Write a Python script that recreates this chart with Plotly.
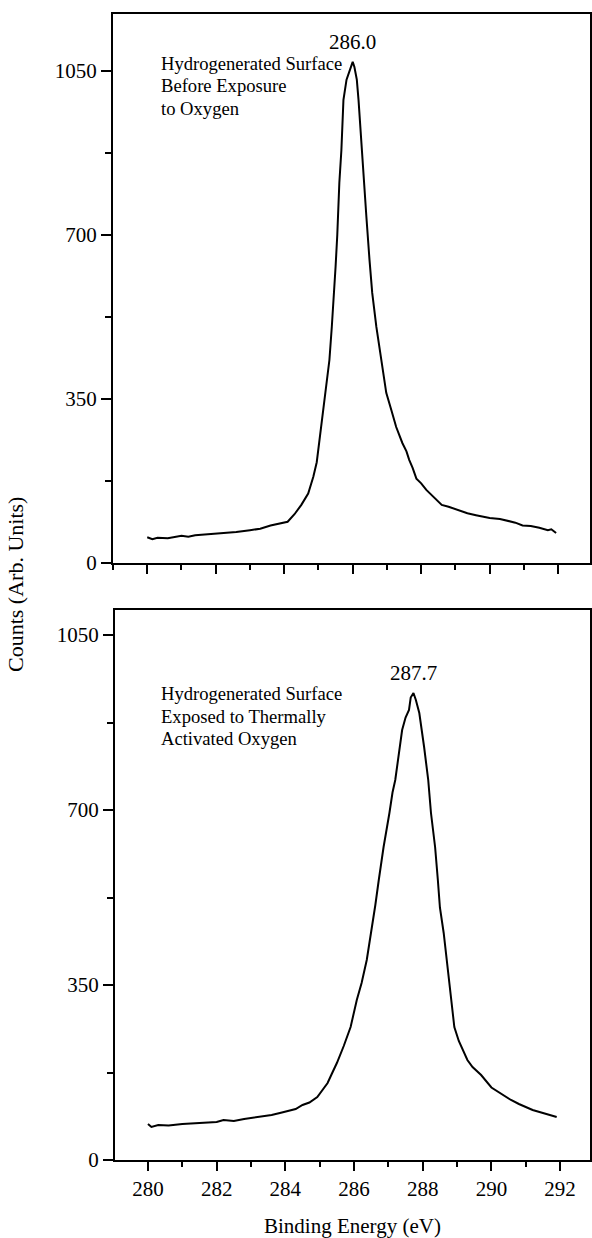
import plotly.graph_objects as go

# Top spectrum: hydrogenerated surface before exposure to oxygen
top_energy = [280.0, 280.15, 280.3, 280.6, 281.0, 281.2, 281.4, 281.8, 282.2, 282.6, 283.0, 283.3,
              283.6, 283.9, 284.1, 284.3, 284.5, 284.7, 284.85, 284.95, 285.08, 285.2, 285.32,
              285.39, 285.44, 285.5, 285.55, 285.61, 285.67, 285.73, 285.82, 285.9, 285.95, 286.0,
              286.05, 286.12, 286.17, 286.26, 286.32, 286.4, 286.49, 286.57, 286.69, 286.84,
              286.98, 287.13, 287.27, 287.45, 287.57, 287.65, 287.75, 287.86, 288.0, 288.15,
              288.3, 288.45, 288.6, 288.8, 289.1, 289.35, 289.6, 290.0, 290.3, 290.5, 290.75,
              290.96, 291.2, 291.45, 291.7, 291.8, 291.94]
top_counts = [55, 51, 54, 53, 58, 56, 59, 61, 63, 66, 70, 73,
              80, 84, 88, 104, 124, 148, 184, 215, 290, 363, 433,
              504, 576, 632, 700, 811, 881, 988, 1031, 1050, 1060, 1069,
              1058, 1031, 988, 881, 811, 738, 647, 576, 504, 433,
              363, 326, 290, 256, 238, 220, 203, 180, 170, 156,
              145, 136, 124, 120, 113, 106, 102, 96, 94, 91, 86,
              80, 79, 75, 70, 72, 64]

# Bottom spectrum: surface exposed to thermally activated oxygen
bot_energy = [280.0, 280.1, 280.3, 280.6, 281.0, 281.4, 281.8, 282.0, 282.2, 282.5, 282.8, 283.0,
              283.3, 283.6, 283.9, 284.1, 284.3, 284.5, 284.7, 284.93, 285.1, 285.23, 285.35,
              285.5, 285.7, 285.9, 286.08, 286.22, 286.37, 286.5, 286.62, 286.72, 286.86, 287.03,
              287.12, 287.2, 287.33, 287.4, 287.5, 287.55, 287.6, 287.65, 287.73, 287.8, 287.9,
              288.04, 288.16, 288.24, 288.36, 288.44, 288.5, 288.61, 288.72, 288.82, 288.92,
              289.05, 289.16, 289.3, 289.45, 289.7, 290.0, 290.2, 290.37, 290.57, 290.8, 291.0,
              291.2, 291.5, 291.7, 291.9]
bot_counts = [72, 66, 70, 69, 72, 74, 75, 76, 80, 78, 82, 84,
              87, 90, 95, 98, 102, 110, 115, 126, 142, 154, 172,
              194, 228, 266, 320, 354, 400, 454, 510, 560, 626, 694,
              735, 760, 826, 860, 885, 894, 900, 925, 934, 920, 894,
              826, 760, 694, 626, 560, 505, 454, 386, 320, 266,
              238, 220, 200, 186, 170, 145, 136, 130, 120, 112, 106,
              100, 94, 90, 86]

y_ticks = [0, 350, 700, 1050]
x_ticks = [280, 282, 284, 286, 288, 290, 292]
peak_labels = ["286.0", "287.7"]
peak_pos = [(286.0, 1069), (287.73, 934)]
top_note = ["Hydrogenerated Surface", "Before Exposure", "to Oxygen"]
bot_note = ["Hydrogenerated Surface", "Exposed to Thermally", "Activated Oxygen"]

W, H = 592, 1238
FONT = "Liberation Serif, Times New Roman, serif"

fig = go.Figure()
fig.add_trace(go.Scatter(x=top_energy, y=top_counts, mode="lines",
                         line=dict(color="black", width=2), xaxis="x", yaxis="y",
                         showlegend=False))
fig.add_trace(go.Scatter(x=bot_energy, y=bot_counts, mode="lines",
                         line=dict(color="black", width=2), xaxis="x2", yaxis="y2",
                         showlegend=False))

def px_x(p):
    return p / W

def px_y(p):
    return 1 - p / H

common_axis = dict(showline=True, linecolor="black", linewidth=2, mirror=True,
                   showgrid=False, zeroline=False, ticks="outside", tickcolor="black",
                   tickwidth=2, automargin=False,
                   tickfont=dict(family=FONT, size=21, color="black"))

fig.update_layout(
    width=W, height=H, margin=dict(l=0, r=0, t=0, b=0, autoexpand=False),
    paper_bgcolor="white", plot_bgcolor="white",
    font=dict(family=FONT, size=21, color="black"),
    xaxis=dict(domain=[px_x(113), px_x(590)], range=[279.0, 292.93], anchor="y",
               tickvals=x_ticks, showticklabels=False, ticklen=9,
               minor=dict(dtick=1, tick0=279, ticks="outside", ticklen=5, tickwidth=2,
                          tickcolor="black"),
               **common_axis),
    yaxis=dict(domain=[px_y(563), px_y(14)], range=[0, 1171], anchor="x",
               tickvals=y_ticks, ticklen=10,
               minor=dict(dtick=175, tick0=0, ticks="outside", ticklen=6, tickwidth=2,
                          tickcolor="black"),
               **common_axis),
    xaxis2=dict(domain=[px_x(115), px_x(590)], range=[279.04, 292.87], anchor="y2",
                tickvals=x_ticks, ticklen=9,
                minor=dict(dtick=1, tick0=279, ticks="outside", ticklen=5, tickwidth=2,
                           tickcolor="black"),
                title=dict(text="Binding Energy (eV)", font=dict(family=FONT, size=21),
                           standoff=18),
                **common_axis),
    yaxis2=dict(domain=[px_y(1160), px_y(610)], range=[0, 1100], anchor="x2",
                tickvals=y_ticks, ticklen=10,
                minor=dict(dtick=175, tick0=0, ticks="outside", ticklen=6, tickwidth=2,
                           tickcolor="black"),
                **common_axis),
)

annotations = []
# peak labels
annotations.append(dict(x=peak_pos[0][0], y=peak_pos[0][1], xref="x", yref="y",
                        text=peak_labels[0], showarrow=False, yanchor="bottom", yshift=6,
                        font=dict(family=FONT, size=21)))
annotations.append(dict(x=peak_pos[1][0], y=peak_pos[1][1], xref="x2", yref="y2",
                        text=peak_labels[1], showarrow=False, yanchor="bottom", yshift=6,
                        font=dict(family=FONT, size=21)))
for i, t in enumerate(top_note):
    annotations.append(dict(x=px_x(159), y=px_y(63 + 22.5 * i), xref="paper", yref="paper",
                            text=t, showarrow=False, xanchor="left", yanchor="middle",
                            font=dict(family=FONT, size=18.6)))
for i, t in enumerate(bot_note):
    annotations.append(dict(x=px_x(159), y=px_y(693 + 23 * i), xref="paper", yref="paper",
                            text=t, showarrow=False, xanchor="left", yanchor="middle",
                            font=dict(family=FONT, size=18.6)))
annotations.append(dict(x=px_x(15), y=px_y(585), xref="paper", yref="paper",
                        text="Counts (Arb. Units)", showarrow=False, textangle=-90,
                        xanchor="center", yanchor="middle",
                        font=dict(family=FONT, size=22)))
fig.update_layout(annotations=annotations)

fig.write_html("out.html")
